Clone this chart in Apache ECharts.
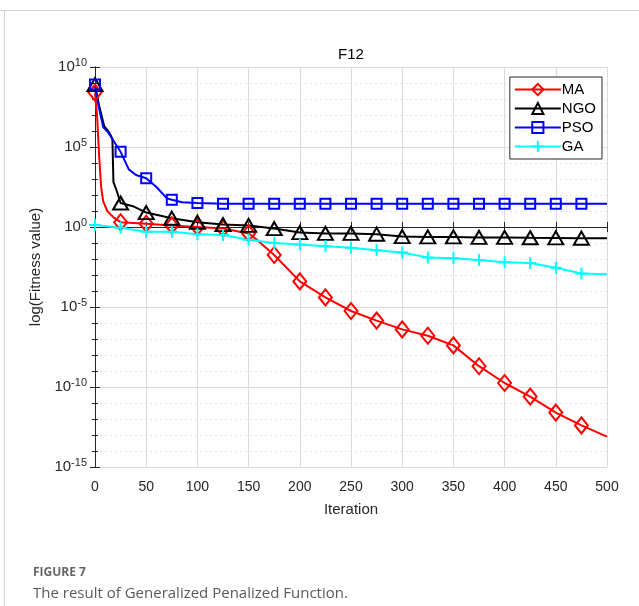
<!DOCTYPE html>
<html><head><meta charset="utf-8">
<script src="https://cdn.jsdelivr.net/npm/echarts@6/dist/echarts.min.js"></script>
<style>html,body{margin:0;padding:0;background:#fff}#c{width:639px;height:606px}</style>
</head><body><div id="c"></div>
<script>
// Values are log10(fitness)
const maIter  = [0, 2, 4, 6, 8, 12, 18, 25, 50, 75, 100, 125, 150, 160, 175, 200, 225, 250, 275, 300, 325, 350, 375, 400, 425, 450, 475, 500];
const maLog   = [8.4, 7.0, 4.5, 2.5, 1.6, 1.0, 0.6, 0.3, 0.2, 0.1, 0.0, -0.1, -0.4, -0.9, -1.75, -3.4, -4.4, -5.25, -5.85, -6.4, -6.8, -7.4, -8.7, -9.75, -10.6, -11.6, -12.4, -13.1];
const ngoIter = [0, 4, 9, 14, 17, 18, 21, 25, 37, 50, 75, 100, 125, 150, 175, 200, 225, 250, 275, 300, 325, 350, 375, 400, 425, 450, 475, 500];
const ngoLog  = [8.9, 7.6, 6.3, 5.9, 5.5, 2.8, 2.3, 1.5, 1.3, 0.9, 0.55, 0.3, 0.15, 0.1, -0.1, -0.35, -0.4, -0.4, -0.45, -0.6, -0.62, -0.62, -0.65, -0.65, -0.67, -0.68, -0.7, -0.7];
const psoIter = [0, 3, 8, 13, 17, 25, 33, 40, 50, 60, 70, 75, 85, 100, 125, 150, 175, 200, 225, 250, 275, 300, 325, 350, 375, 400, 425, 450, 475, 500];
const psoLog  = [8.9, 7.7, 6.25, 5.9, 5.5, 4.7, 3.6, 3.25, 3.05, 2.5, 1.8, 1.7, 1.55, 1.5, 1.45, 1.45, 1.45, 1.45, 1.45, 1.45, 1.45, 1.45, 1.45, 1.45, 1.45, 1.45, 1.45, 1.45, 1.45, 1.45];
const gaIter  = [0, 25, 50, 75, 100, 125, 150, 175, 200, 225, 250, 275, 300, 325, 350, 375, 400, 425, 450, 475, 500];
const gaLog   = [0.12, -0.05, -0.3, -0.3, -0.45, -0.5, -0.8, -1.0, -1.1, -1.2, -1.3, -1.45, -1.6, -1.9, -1.95, -2.06, -2.2, -2.25, -2.55, -2.9, -2.95];
const seriesNames = ['MA', 'NGO', 'PSO', 'GA'];
const xTicks = [0, 50, 100, 150, 200, 250, 300, 350, 400, 450, 500];
const yExpTicks = [-15, -10, -5, 0, 5, 10];

function build(iters, vals) {
  return iters.map((x, i) => {
    const d = { value: [x, vals[i]] };
    if (!(x % 25 === 0 && x < 500)) d.symbol = 'none';
    return d;
  });
}
const FONT = 'Liberation Sans, Arial, sans-serif';
const AX = '#262626';
function mk(name, iters, vals, color, symbol, size) {
  return {
    name, type: 'line', data: build(iters, vals), color: color,
    symbol, symbolSize: size, showAllSymbol: true,
    lineStyle: { color, width: 2 },
    itemStyle: { color: 'rgba(0,0,0,0)', borderColor: color, borderWidth: 2 },
    emphasis: { disabled: true }, animation: false, z: 3
  };
}
const chart = echarts.init(document.getElementById('c'), null, { renderer: 'canvas' });
chart.setOption({
  backgroundColor: '#fff',
  animation: false,
  grid: { left: 95, right: 32, top: 67, bottom: 139, show: false },
  legend: {
    orient: 'vertical', right: 37, top: 77, data: seriesNames,
    itemWidth: 46, itemHeight: 14, itemGap: 4,
    padding: [5, 6, 5, 4],
    backgroundColor: '#fff', borderColor: AX, borderWidth: 1,
    textStyle: { fontFamily: FONT, fontSize: 15, color: '#000', padding: [0, 0, 0, -4] },
    z: 10
  },
  xAxis: [{
    type: 'value', min: xTicks[0], max: xTicks[xTicks.length - 1], interval: 50,
    name: 'Iteration', nameLocation: 'middle', nameGap: 35,
    nameTextStyle: { fontFamily: FONT, fontSize: 15, color: AX },
    axisLine: { show: true, lineStyle: { color: AX, width: 1 } },
    axisTick: { show: true, inside: true, length: 5, lineStyle: { color: AX } },
    axisLabel: { fontFamily: FONT, fontSize: 14, color: AX, margin: 13 },
    splitLine: { show: true, lineStyle: { color: '#dcdcdc', width: 1 } }
  }, {
    type: 'value', position: 'top', min: 0, max: 500, interval: 50,
    axisLine: { show: true, lineStyle: { color: AX, width: 1 } },
    axisTick: { show: true, inside: true, length: 5, lineStyle: { color: AX } },
    axisLabel: { show: false }, splitLine: { show: false }
  }],
  yAxis: [{
    type: 'value', min: yExpTicks[0], max: yExpTicks[yExpTicks.length - 1], interval: 5,
    name: 'log(Fitness value)', nameLocation: 'middle', nameGap: 50, nameRotate: 90,
    nameTextStyle: { fontFamily: FONT, fontSize: 15, color: AX },
    axisLine: { show: true, lineStyle: { color: AX, width: 1 } },
    axisTick: { show: true, inside: true, length: 5, lineStyle: { color: AX } },
    minorTick: { show: true, splitNumber: 5, length: 3, lineStyle: { color: AX } },
    axisLabel: {
      margin: 8,
      formatter: v => '{b|10}{s|' + v + '}',
      rich: {
        b: { fontFamily: FONT, fontSize: 15, color: AX },
        s: { fontFamily: FONT, fontSize: 11, color: AX, padding: [0, 0, 9, 0] }
      }
    },
    splitLine: { show: true, lineStyle: { color: '#dcdcdc', width: 1 } },
    minorSplitLine: { show: true, lineStyle: { color: '#e4e4e4', width: 1, type: [2, 3] } }
  }, {
    type: 'value', position: 'right', min: -15, max: 10, interval: 5,
    axisLine: { show: true, lineStyle: { color: AX, width: 1 } },
    axisTick: { show: true, inside: true, length: 5, lineStyle: { color: AX } },
    minorTick: { show: true, splitNumber: 5, length: 3, lineStyle: { color: AX } },
    axisLabel: { show: false }, splitLine: { show: false }
  }],
  series: [
    mk(seriesNames[0], maIter, maLog, '#ff0000', 'diamond', [13, 16]),
    mk(seriesNames[1], ngoIter, ngoLog, '#000000', 'triangle', [15, 13]),
    mk(seriesNames[2], psoIter, psoLog, '#0000ff', 'rect', [10, 10]),
    mk(seriesNames[3], gaIter, gaLog, '#00ffff', 'path://M6,0L6,12M0,6L12,6', [12, 12])
  ],
  graphic: [
    { type: 'line', shape: { x1: 0, y1: 10.5, x2: 639, y2: 10.5 }, style: { stroke: '#d0d0d0', lineWidth: 1 } },
    { type: 'line', shape: { x1: 4.5, y1: 10, x2: 4.5, y2: 606 }, style: { stroke: '#d0d0d0', lineWidth: 1 } },
    { type: 'text', x: 351, y: 55, style: { text: 'F12', align: 'center', verticalAlign: 'middle', fontFamily: FONT, fontSize: 15, fill: '#000' } },
    { type: 'text', x: 33, y: 573, style: { text: 'FIGURE 7', verticalAlign: 'middle', fontFamily: 'Open Sans, sans-serif', fontSize: 12, fontWeight: 'bold', fill: '#666' } },
    { type: 'text', x: 33, y: 594, style: { text: 'The result of Generalized Penalized Function.', verticalAlign: 'middle', fontFamily: 'Open Sans, sans-serif', fontSize: 15, fill: '#5a5a5a' } }
  ]
});
</script></body></html>
